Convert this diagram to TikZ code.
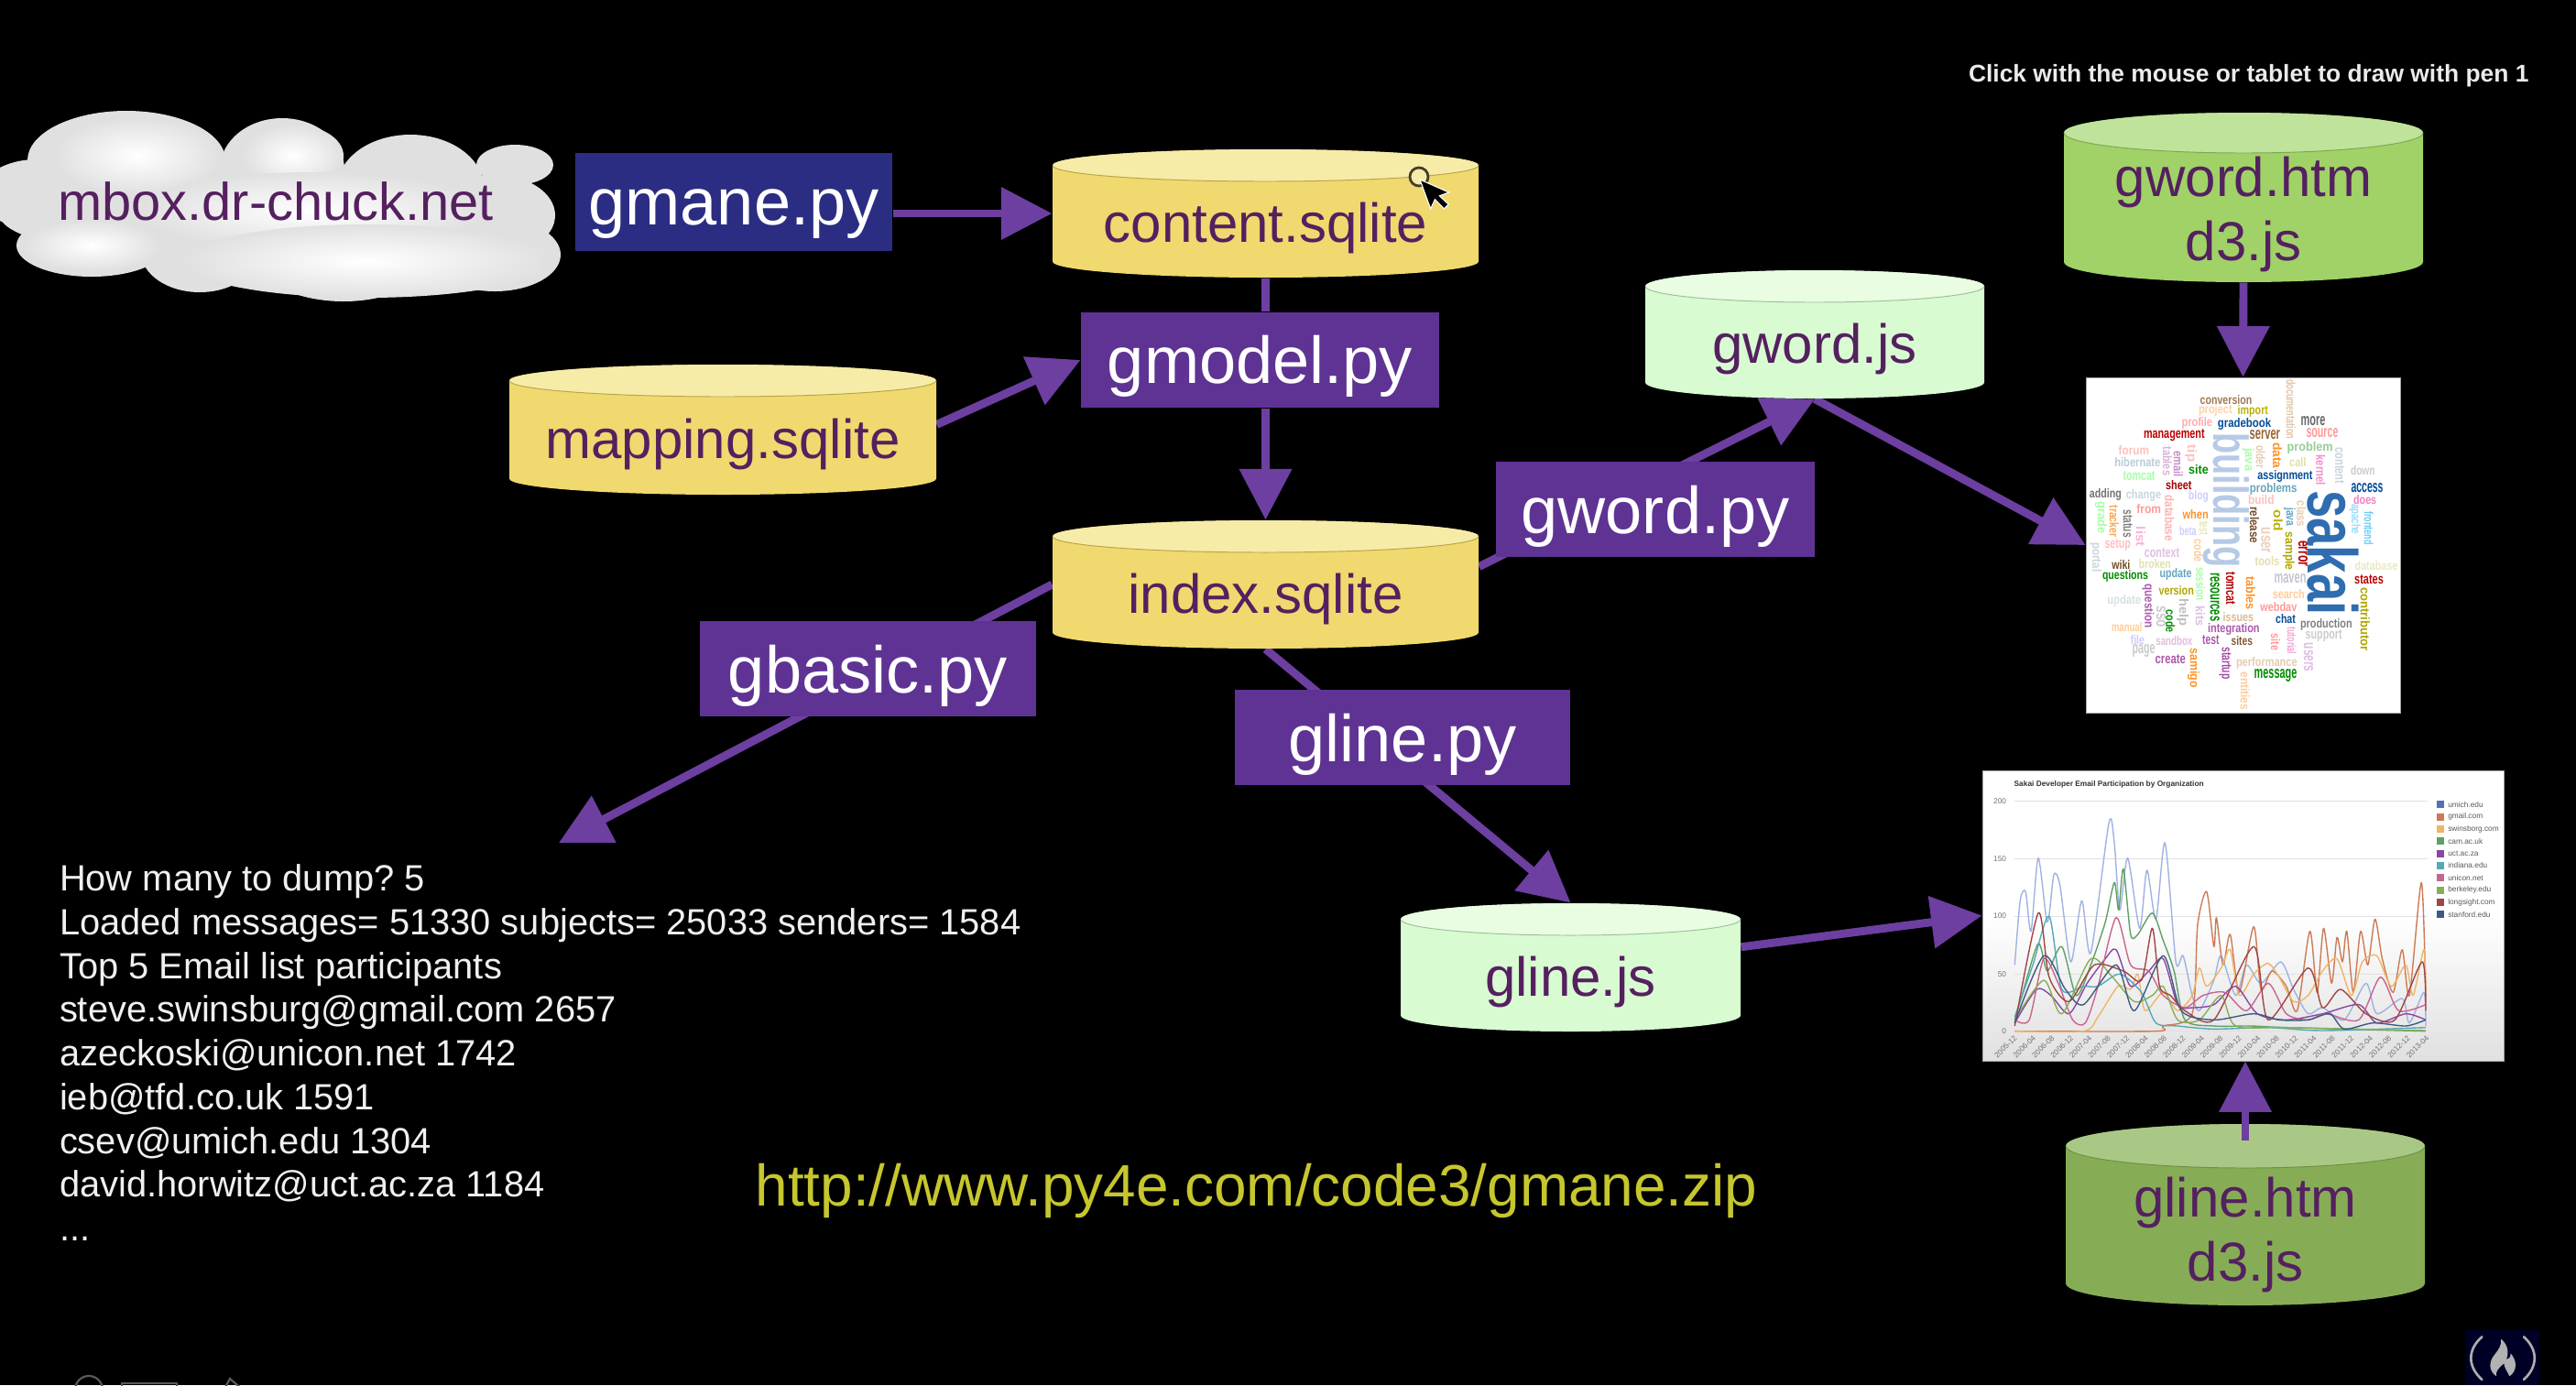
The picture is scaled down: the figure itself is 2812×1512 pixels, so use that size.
\documentclass[tikz,border=0pt]{standalone}
\usepackage{fontspec}
\setmainfont{Liberation Sans}
\frenchspacing
\usetikzlibrary{arrows.meta,calc}
\pgfdeclarelayer{back}
\pgfsetlayers{back,main}
\def\pxu{0.36pt}
\definecolor{arrowpurple}{HTML}{6C3FA0}
\definecolor{boxpurple}{HTML}{5F3393}
\definecolor{boxblue}{HTML}{2B2D83}
\definecolor{dbtext}{HTML}{55205F}
\definecolor{urlyellow}{HTML}{C6C62E}
\definecolor{yellowbody}{HTML}{F0D96E}
\definecolor{yellowtop}{HTML}{F7EBA8}
\definecolor{yellowline}{HTML}{B9A548}
\definecolor{limebody}{HTML}{D8FBD2}
\definecolor{limetop}{HTML}{E8FDE2}
\definecolor{limeline}{HTML}{9FC09A}
\definecolor{greenbody}{HTML}{A0D268}
\definecolor{greentop}{HTML}{BFE39A}
\definecolor{greenline}{HTML}{7FA850}
\definecolor{darkbody}{HTML}{86AD55}
\definecolor{darktop}{HTML}{AAC885}
\definecolor{darkline}{HTML}{6E9044}
\definecolor{HTMLsakai}{HTML}{2F6DB0}
\definecolor{HTMLbuild}{HTML}{B6CAE6}
\definecolor{HTMLumich}{HTML}{9FB2E0}
\definecolor{HTMLlegumich}{HTML}{5570B8}
\definecolor{HTMLgmail}{HTML}{CC7A55}
\definecolor{HTMLswin}{HTML}{EFB566}
\definecolor{HTMLcam}{HTML}{5FA065}
\definecolor{HTMLuct}{HTML}{8A45A5}
\definecolor{HTMLind}{HTML}{55A8B8}
\definecolor{HTMLuni}{HTML}{C9648F}
\definecolor{HTMLber}{HTML}{85B055}
\definecolor{HTMLlong}{HTML}{A04545}
\definecolor{HTMLstan}{HTML}{3F5A80}
\tikzset{
  pybox/.style={rectangle,fill=#1,text=white,inner sep=0pt,text depth=0pt,text height=18.4pt,font=\fontsize{26}{30}\selectfont},
  pybox/.default=boxpurple,
  db/.style 2 args={rectangle,inner sep=0pt,align=center,text=dbtext,text depth=0pt,
    minimum width=#1*\pxu,minimum height=#2*\pxu,
    font=\fontsize{21.6}{25.2}\selectfont},
  conn/.style={arrowpurple,line width=3.2pt},
  arr/.style={conn,-{Triangle[length=20pt,width=20pt]}},
  series/.style={line width=0.5pt,line join=round},
  legendtext/.style={text=black!65,inner sep=0pt,anchor=west,font=\fontsize{3}{3.6}\selectfont},
  lobe/.style={fill=black!12},
}
% cylinder body: centre x, centre y, width, height, rim radius, body, top, rim line
\newcommand{\cylbody}[8]{%
  \fill[#6] ({#1-#3/2},{#2-#4/2+#5}) -- ({#1-#3/2},{#2+#4/2-#5})
    arc[start angle=180,end angle=360,x radius=#3/2*\pxu,y radius=#5*\pxu]
    -- ({#1+#3/2},{#2-#4/2+#5})
    arc[start angle=0,end angle=180,x radius=#3/2*\pxu,y radius=#5*\pxu] -- cycle;
  \fill[#7] (#1,{#2-#4/2+#5}) ellipse [x radius=#3/2*\pxu,y radius=#5*\pxu];
  \draw[#8,line width=0.35pt] ({#1-#3/2},{#2-#4/2+#5})
    arc[start angle=180,end angle=360,x radius=#3/2*\pxu,y radius=#5*\pxu];}
\newcommand{\cw}[6]{%
  \pgfmathsetlengthmacro{\cwlen}{#6*0.12}%
  \node[rotate=#5,text=#4,inner sep=0pt] (w#1x#2) at (#1,#2)
    {\resizebox{\cwlen}{3.6pt}{\bfseries #3}};}
\newcommand{\legenditem}[3]{%
  \fill[#2] (1316,#1-12) rectangle (1336,#1+12);
  \node[legendtext] (leg#1) at (1345,#1) {#3};}
\begin{document}
\begin{tikzpicture}[x=0.36pt,y=-0.36pt]
\useasboundingbox (0,0) rectangle (2812,1512);
\begin{pgfonlayer}{back}
\fill[black] (0,0) rectangle (2812,1512);
\end{pgfonlayer}

% cloud
\begin{scope}
\clip (0,0) rectangle (2812,1512);
\fill[lobe] (138,175) ellipse [x radius=108,y radius=54];
\fill[lobe] (308,185) ellipse [x radius=68,y radius=56];
\fill[lobe] (448,205) ellipse [x radius=80,y radius=58];
\fill[lobe] (562,180) ellipse [x radius=42,y radius=22];
\fill[lobe] (540,235) ellipse [x radius=66,y radius=44];
\fill[lobe] (40,212) ellipse [x radius=62,y radius=38];
\fill[lobe] (100,268) ellipse [x radius=82,y radius=34];
\fill[lobe] (218,275) ellipse [x radius=64,y radius=44];
\fill[lobe] (375,275) ellipse [x radius=100,y radius=54];
\fill[lobe] (540,278) ellipse [x radius=72,y radius=40];
\fill[lobe] (260,235) ellipse [x radius=260,y radius=50];
\shade[inner color=white,outer color=black!12] (150,170) ellipse [x radius=90,y radius=42];
\shade[inner color=white,outer color=black!12] (320,170) ellipse [x radius=55,y radius=34];
\shade[inner color=white,outer color=black!12] (340,230) ellipse [x radius=190,y radius=42];
\shade[inner color=white,outer color=black!12] (400,285) ellipse [x radius=200,y radius=40];
\shade[inner color=white,outer color=black!12] (100,268) ellipse [x radius=74,y radius=28];
\end{scope}
\node[text=dbtext,anchor=base,inner sep=0pt,font=\fontsize{20.8}{25}\selectfont] (cloud) at (301,240) {mbox.dr-chuck.net};

% stores
\cylbody{1381.5}{233}{465}{140}{17.5}{yellowbody}{yellowtop}{yellowline}
\node[db={465}{140},text height=22.5pt] (content) at (1381.5,233) {content.sqlite};
\cylbody{789}{469}{466}{142}{17.5}{yellowbody}{yellowtop}{yellowline}
\node[db={466}{142},text height=22.5pt] (mapping) at (789,469) {mapping.sqlite};
\cylbody{1381.5}{638}{465}{140}{17.5}{yellowbody}{yellowtop}{yellowline}
\node[db={465}{140},text height=22.5pt] (index) at (1381.5,638) {index.sqlite};
\cylbody{1981}{365}{370}{140}{17.5}{limebody}{limetop}{limeline}
\node[db={370}{140},text height=22.5pt] (gwordjs) at (1981,365) {gword.js};
\cylbody{1714.5}{1056}{371}{140}{17.5}{limebody}{limetop}{limeline}
\node[db={371}{140},text height=22.5pt] (glinejs) at (1714.5,1056) {gline.js};
\cylbody{2449}{215.5}{392}{185}{22}{greenbody}{greentop}{greenline}
\node[db={392}{185},text height=49.7pt] (gwordhtm) at (2449,215.5) {gword.htm\\[0pt]d3.js};
\cylbody{2451}{1326}{392}{198}{24}{darkbody}{darktop}{darkline}
\node[db={392}{198},text height=52pt] (glinehtm) at (2451,1326) {gline.htm\\[0pt]d3.js};

% word cloud
\node[fill=white,draw=black!35,line width=0.3pt,inner sep=0pt,minimum width=343*\pxu,minimum height=366*\pxu] (wc) at (2448.5,595) {};
\begin{scope}[shift={(2240,380)},x=0.12pt,y=-0.12pt]
\node[rotate=-90,text=HTMLsakai,inner sep=0pt] (sakaiword) at (920,670) {\resizebox{49pt}{20pt}{\bfseries sakai}};
\node[rotate=-90,text=HTMLbuild,inner sep=0pt] (buildword) at (570,498) {\resizebox{53pt}{14pt}{\bfseries building}};
\cw{570}{170}{conversion}{brown!70!black!80}{0}{170}
\cw{535}{205}{project}{orange!35}{0}{110}
\cw{658}{207}{import}{olive!60!yellow}{0}{100}
\cw{475}{245}{profile}{pink!90!red}{0}{100}
\cw{630}{250}{gradebook}{blue!50!cyan!60!black}{0}{175}
\cw{855}{240}{more}{black!60}{0}{80}
\cw{885}{278}{source}{red!40}{0}{105}
\cw{400}{285}{management}{red!75!black}{0}{200}
\cw{697}{285}{server}{brown!80!black}{0}{100}
\cw{782}{200}{documentation}{brown!45}{-90}{195}
\cw{845}{328}{problem}{green!35!gray!60}{0}{150}
\cw{268}{335}{forum}{pink}{0}{100}
\cw{280}{375}{hibernate}{cyan!30!gray!50}{0}{150}
\cw{378}{370}{tables}{violet!30}{-90}{95}
\cw{413}{380}{email}{violet!45}{-90}{85}
\cw{455}{345}{tip}{pink}{-90}{55}
\cw{480}{398}{site}{green!55!black}{0}{65}
\cw{285}{418}{tomcat}{green!35}{0}{105}
\cw{643}{365}{java}{green!35}{-90}{75}
\cw{683}{357}{older}{brown!40}{-90}{75}
\cw{738}{352}{data}{orange!85}{-90}{85}
\cw{805}{375}{call}{yellow!50!gray!50}{0}{55}
\cw{880}{400}{kernel}{magenta!45}{-90}{100}
\cw{942}{385}{content}{cyan!25!gray!40}{-90}{120}
\cw{1018}{402}{down}{black!20}{0}{80}
\cw{763}{420}{assignment}{blue!50!cyan!60!black}{0}{180}
\cw{415}{450}{sheet}{red!65!black}{0}{85}
\cw{175}{480}{adding}{black!55}{0}{105}
\cw{300}{482}{change}{cyan!25!gray!40}{0}{115}
\cw{480}{485}{blog}{blue!20}{0}{65}
\cw{725}{462}{problems}{cyan!50!gray}{0}{155}
\cw{1032}{458}{access}{blue!50!cyan!60!black}{0}{105}
\cw{685}{498}{build}{pink}{0}{85}
\cw{1025}{497}{does}{magenta!50}{0}{75}
\cw{317}{527}{from}{red!40}{0}{80}
\cw{160}{555}{grade}{green!35}{-90}{105}
\cw{203}{567}{tracker}{orange!70}{-90}{105}
\cw{470}{545}{when}{orange!85}{0}{85}
\cw{385}{557}{database}{red!30}{-90}{150}
\cw{248}{575}{status}{black!50}{-90}{90}
\cw{663}{580}{release}{brown!60!black}{-90}{120}
\cw{740}{565}{old}{olive!60!yellow}{-90}{70}
\cw{778}{553}{java}{cyan!50!gray}{-90}{60}
\cw{817}{543}{class}{brown!40}{-90}{85}
\cw{992}{560}{apache}{cyan!40}{-90}{100}
\cw{1037}{590}{frontend}{cyan!60}{-90}{110}
\cw{445}{600}{beta}{blue!20}{0}{55}
\cw{497}{590}{test}{yellow!50!gray!40}{-90}{45}
\cw{700}{630}{user}{brown!35}{-90}{85}
\cw{290}{617}{list}{magenta!30}{-90}{65}
\cw{215}{645}{setup}{pink}{0}{85}
\cw{143}{685}{portal}{cyan!25!gray!40}{-90}{95}
\cw{480}{663}{code}{orange!40}{-90}{75}
\cw{360}{670}{context}{violet!25}{0}{115}
\cw{705}{697}{tools}{yellow!50!gray!50}{0}{80}
\cw{775}{665}{sample}{olive!70!yellow}{-90}{125}
\cw{822}{673}{error}{red!70!black}{-90}{85}
\cw{226}{710}{wiki}{brown!60!black}{0}{60}
\cw{337}{707}{broken}{yellow!50!gray!50}{0}{105}
\cw{1062}{713}{database}{yellow!45!gray!35}{0}{140}
\cw{240}{747}{questions}{green!55!black}{0}{150}
\cw{405}{741}{update}{cyan!50!gray}{0}{105}
\cw{780}{755}{maven}{blue!15!gray!40}{0}{105}
\cw{1038}{758}{states}{red!75!black}{0}{95}
\cw{407}{793}{version}{olive!70!yellow}{0}{115}
\cw{775}{805}{search}{orange!40}{0}{105}
\cw{487}{772}{session}{green!35}{-90}{110}
\cw{533}{815}{resources}{green!55!black}{-90}{160}
\cw{585}{787}{tomcat}{red!70!black}{-90}{105}
\cw{650}{802}{tables}{orange!85}{-90}{110}
\cw{742}{848}{webdav}{red!40}{0}{120}
\cw{1025}{888}{contributor}{olive!70!yellow}{-90}{210}
\cw{236}{829}{update}{cyan!20!gray!30}{0}{110}
\cw{315}{845}{question}{violet!65}{-90}{145}
\cw{357}{880}{sso}{black!20}{-90}{70}
\cw{388}{895}{code}{green!55!black}{-90}{75}
\cw{428}{865}{help}{black!25}{-90}{90}
\cw{485}{878}{kits}{violet!25}{-90}{65}
\cw{610}{882}{issues}{brown!55}{0}{100}
\cw{765}{887}{chat}{blue!50!cyan!60!black}{0}{65}
\cw{898}{905}{production}{black!50}{0}{170}
\cw{595}{920}{integration}{violet!65}{0}{170}
\cw{245}{915}{manual}{orange!40}{0}{100}
\cw{890}{943}{support}{black!20}{0}{120}
\cw{280}{955}{file}{blue!20}{0}{45}
\cw{400}{958}{sandbox}{violet!25}{0}{120}
\cw{520}{955}{test}{violet!65}{0}{55}
\cw{622}{958}{sites}{brown!70!black}{0}{70}
\cw{732}{963}{site}{red!40}{-90}{55}
\cw{785}{958}{tutorial}{magenta!35}{-90}{90}
\cw{300}{990}{page}{black!20}{0}{75}
\cw{840}{1013}{users}{violet!25}{-90}{95}
\cw{388}{1020}{create}{violet!65}{0}{100}
\cw{463}{1047}{samigo}{orange!85}{-90}{130}
\cw{567}{1032}{startup}{violet!70}{-90}{105}
\cw{703}{1033}{performance}{brown!40}{0}{200}
\cw{732}{1071}{message}{green!55!black}{0}{140}
\cw{632}{1123}{entities}{orange!40}{-90}{125}
\end{scope}

% line chart
\node[top color=white,bottom color=black!12,middle color=white,draw=black!35,line width=0.3pt,inner sep=0pt,minimum width=569*\pxu,minimum height=317*\pxu] (chart) at (2448.5,999.5) {};
\begin{scope}[shift={(2140,820)},x={0.1423pt},y={-0.12pt}]
\foreach \gy/\lab in {163/200,352/150,540/100,730/50,917/0}{
  \draw[black!12,line width=0.2pt] (150,\gy) -- (1290,\gy);
  \node[text=black!55,inner sep=0pt,anchor=east,font=\fontsize{3}{3.6}\selectfont] (yl\lab) at (128,\gy) {\lab};
}
\node[inner sep=0pt,anchor=west,text=black!80,font=\fontsize{3}{3.6}\bfseries\selectfont] (charttitle) at (147,110) {Sakai Developer Email Participation by Organization};
\foreach \lab [count=\i from 0] in {2005-12,2006-04,2006-08,2006-12,2007-04,2007-08,2007-12,2008-04,2008-08,2008-12,2009-04,2009-08,2009-12,2010-04,2010-08,2010-12,2011-04,2011-08,2011-12,2012-04,2012-08,2012-12,2013-04}{
  \node[rotate=45,text=black!55,inner sep=0pt,font=\fontsize{3}{3.6}\selectfont] (xl\i) at ({125+51.7*\i},968) {\lab};
}
\draw[series,color=HTMLumich] plot[smooth,tension=0.45] coordinates {(150,700)(165,490)(180,460)(195,590)(215,350)(240,560)(258,405)(275,440)(305,690)(335,490)(360,660)(410,235)(425,300)(440,520)(462,350)(495,580)(515,390)(540,550)(565,300)(595,690)(615,670)(640,800)(660,850)(700,750)(720,670)(760,800)(790,700)(830,760)(885,690)(920,780)(960,860)(1000,840)(1060,880)(1120,760)(1150,860)(1220,810)(1240,890)(1280,790)(1285,900)};
\draw[series,color=HTMLgmail] plot[smooth,tension=0.45] coordinates {(150,917)(540,917)(560,900)(640,860)(655,570)(680,460)(700,640)(707,545)(725,700)(745,600)(770,790)(810,575)(830,780)(860,720)(900,770)(930,850)(965,590)(985,790)(1003,580)(1025,760)(1040,610)(1055,690)(1067,590)(1085,790)(1105,590)(1125,700)(1145,550)(1165,680)(1195,790)(1220,650)(1240,800)(1273,430)(1285,800)};
\draw[series,color=HTMLswin] plot[smooth,tension=0.45] coordinates {(150,917)(340,917)(380,870)(435,770)(470,780)(490,730)(510,850)(560,790)(600,850)(640,800)(660,710)(680,770)(720,710)(745,650)(770,800)(810,730)(850,695)(880,740)(920,820)(960,800)(1000,720)(1040,680)(1080,800)(1110,690)(1150,670)(1190,770)(1230,700)(1250,800)(1280,650)(1285,800)};
\draw[series,color=HTMLcam] plot[smooth,tension=0.45] coordinates {(150,880)(170,800)(215,630)(240,720)(280,640)(320,800)(360,700)(400,560)(425,430)(437,520)(450,385)(470,600)(490,600)(530,530)(560,620)(590,720)(620,880)(700,900)(800,900)(900,905)(1285,917)};
\draw[series,color=HTMLuct] plot[smooth,tension=0.45] coordinates {(150,890)(210,780)(250,800)(300,860)(350,760)(400,680)(430,650)(470,770)(520,720)(560,680)(600,830)(640,840)(700,830)(760,770)(820,860)(900,880)(1000,860)(1100,830)(1150,890)(1230,860)(1285,880)};
\draw[series,color=HTMLind] plot[smooth,tension=0.45] coordinates {(150,870)(200,700)(245,540)(280,780)(340,770)(380,770)(440,730)(500,790)(540,890)(600,900)(700,910)(850,905)(1000,915)(1285,905)};
\draw[series,color=HTMLuni] plot[smooth,tension=0.45] coordinates {(150,880)(190,880)(230,680)(270,760)(310,880)(345,890)(380,770)(430,545)(470,700)(520,720)(560,800)(620,840)(670,800)(730,790)(790,850)(850,760)(900,860)(960,880)(1010,860)(1100,880)(1160,740)(1210,850)(1285,830)};
\draw[series,color=HTMLber] plot[smooth,tension=0.45] coordinates {(150,880)(230,750)(280,860)(360,680)(420,740)(480,820)(530,800)(560,770)(600,880)(660,880)(720,800)(760,900)(900,905)(1285,915)};
\draw[series,color=HTMLlong] plot[smooth,tension=0.45] coordinates {(150,900)(215,530)(245,740)(300,820)(370,700)(450,720)(500,750)(530,580)(550,770)(580,800)(620,850)(700,880)(810,640)(850,880)(960,710)(1000,840)(1050,780)(1120,860)(1200,880)(1275,690)(1285,850)};
\draw[series,color=HTMLstan] plot[smooth,tension=0.45] coordinates {(150,890)(230,670)(290,780)(340,830)(430,700)(480,850)(560,670)(610,850)(700,880)(810,860)(880,880)(960,880)(1020,860)(1060,910)(1140,890)(1230,900)(1285,880)};
\legenditem{175}{HTMLlegumich}{umich.edu}
\legenditem{215}{HTMLgmail}{gmail.com}
\legenditem{255}{HTMLswin}{swinsborg.com}
\legenditem{295}{HTMLcam}{cam.ac.uk}
\legenditem{335}{HTMLuct}{uct.ac.za}
\legenditem{375}{HTMLind}{indiana.edu}
\legenditem{415}{HTMLuni}{unicon.net}
\legenditem{455}{HTMLber}{berkeley.edu}
\legenditem{495}{HTMLlong}{longsight.com}
\legenditem{535}{HTMLstan}{stanford.edu}
\end{scope}

% scripts
\node[pybox=boxblue,text height=18pt,minimum width=346*\pxu,minimum height=107*\pxu] (gmane) at (801,220.5) {gmane.py};
\node[pybox,minimum width=391*\pxu,minimum height=104*\pxu,text height=18pt] (gmodel) at (1375.5,393) {gmodel.py};
\node[pybox,minimum width=367*\pxu,minimum height=104*\pxu,text height=19pt] (gbasic) at (947.5,730) {gbasic.py};
\node[pybox,minimum width=366*\pxu,minimum height=104*\pxu,text height=19pt] (gline) at (1531,805) {gline.py};
\node[pybox,minimum width=348*\pxu,minimum height=104*\pxu,text height=19pt] (gword) at (1807,556) {gword.py};

\coordinate (dumpin) at (610,920);

% connectors, under the scripts
\begin{pgfonlayer}{back}
\draw[arr] (gmane.east |- content.west) -- (content.west);
\draw[conn] (content.south) -- (content.south |- gmodel.north);
\draw[arr] ([yshift=2pt]mapping.east) -- (gmodel.west);
\draw[arr] (index.north |- gmodel.south) -- (index.north);
\draw[arr] (index.west) -- (dumpin);
\draw[arr] (index.south) -- (glinejs.north);
\draw[arr] ([yshift=7pt]index.east) -- (gwordjs.south);
\draw[arr] (gwordjs.south) -- (wc.west);
\draw[arr] (gwordhtm.south) -- (wc.north);
\draw[arr] ([yshift=8pt]glinejs.east) -- (chart.west);
\end{pgfonlayer}
\draw[arr] ([yshift=-6.5pt]glinehtm.north) -- (glinehtm.north |- chart.south);

% text
\node[anchor=north west,inner sep=0pt,align=left,text=white!94!black,font=\fontsize{14.35}{17.2}\selectfont] (dump) at (64.5,943) {How many to dump? 5\\
Loaded messages= 51330 subjects= 25033 senders= 1584\\
Top 5 Email list participants\\
steve.swinsburg@gmail.com 2657\\
azeckoski@unicon.net 1742\\
ieb@tfd.co.uk 1591\\
csev@umich.edu 1304\\
david.horwitz@uct.ac.za 1184\\
...};
\node[text=urlyellow,anchor=base west,inner sep=0pt,font=\fontsize{23}{27}\selectfont] (url) at (824,1316) {http://www.py4e.com/code3/gmane.zip};
\node[text=white!92!black,anchor=base east,inner sep=0pt,font=\fontsize{9.5}{11}\bfseries\selectfont] (pen) at (2761,89) {Click with the mouse or tablet to draw with pen 1};

% mouse pointer
\draw[black!70!olive,line width=1pt,fill=yellowtop] (1549,193) circle [radius=10];
\draw[white,line width=0.4pt,fill=black,rotate around={20:(1550,196)}] (1550,196) -- ++(0,34) -- ++(8,-8) -- ++(6,13) -- ++(6,-3) -- ++(-6,-12) -- ++(11,0) -- cycle;

% channel badge
\begin{scope}[shift={(2650,1420)},x=0.12pt,y=-0.12pt]
\fill[black!85!blue] (126,96) rectangle (366,276);
\draw[black!32,line width=0.95pt,line cap=round] (178,118) .. controls (130,160) and (130,215) .. (178,258);
\draw[black!32,line width=0.95pt,line cap=round] (315,118) .. controls (362,160) and (362,215) .. (315,258);
\fill[black!30] (240,125) .. controls (245,165) and (205,175) .. (205,212) .. controls (205,228) and (215,240) .. (225,247)
  .. controls (222,232) and (230,222) .. (250,205) .. controls (252,222) and (262,232) .. (268,247)
  .. controls (280,240) and (288,225) .. (288,210) .. controls (288,195) and (280,182) .. (272,172)
  .. controls (272,185) and (265,192) .. (258,192) .. controls (268,165) and (260,140) .. (240,125) -- cycle;
\end{scope}

% cut-off toolbar at the foot
\begin{scope}
\clip (0,1400) rectangle (2812,1512);
\draw[black!65,line width=0.8pt] (97,1517) circle [radius=15];
\draw[black!65,line width=0.8pt] (133,1520) -- (133,1510) -- (193,1510) -- (193,1520);
\draw[black!65,line width=0.8pt] (243,1520) -- (251,1505) -- (266,1518);
\end{scope}
\end{tikzpicture}
\end{document}
